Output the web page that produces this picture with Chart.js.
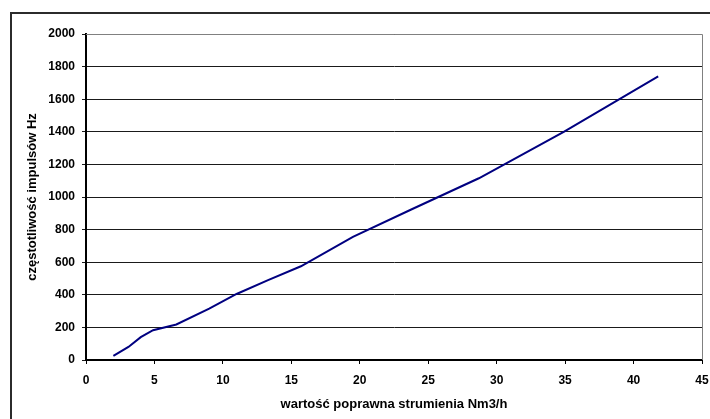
<!DOCTYPE html>
<html>
<head>
<meta charset="utf-8">
<script src="https://cdn.jsdelivr.net/npm/chart.js@4/dist/chart.umd.min.js"></script>
<style>
  html, body { margin: 0; padding: 0; background: #fff; }
  #wrap { width: 710px; height: 419px; position: relative; }
</style>
</head>
<body>
<div id="wrap"><canvas id="c" width="710" height="419"></canvas></div>
<script>
// Flow rate (Nm3/h) and the corresponding pulse frequency (Hz)
const flowRate = [2.0, 3.1, 4.0, 4.9, 6.6, 9.0, 11.0, 13.3, 15.7, 19.5, 23.8, 28.7, 34.9, 41.8];
const pulseFreq = [25, 80, 140, 183, 218, 315, 405, 490, 575, 755, 925, 1115, 1400, 1740];

const xTitle = 'wartość poprawna strumienia Nm3/h';
const yTitle = 'częstotliwość impulsów Hz';

const points = flowRate.map((x, i) => ({ x: x, y: pulseFreq[i] }));

const tickFont = { family: '"Liberation Sans", Arial, sans-serif', size: 12, weight: 'bold' };
const titleFont = { family: '"Liberation Sans", Arial, sans-serif', size: 13, weight: 'bold' };

// Outer frame of the chart object and the plot-area outline
const framePlugin = {
  id: 'frame',
  beforeDatasetsDraw(chart) {
    const { ctx, chartArea: a } = chart;
    ctx.save();
    ctx.strokeStyle = '#808080';
    ctx.lineWidth = 1;
    ctx.beginPath();
    ctx.moveTo(a.left, a.top + 0.5);
    ctx.lineTo(a.right + 0.5, a.top + 0.5);
    ctx.lineTo(a.right + 0.5, a.bottom);
    ctx.stroke();
    ctx.restore();
  },
  afterDraw(chart) {
    const { ctx } = chart;
    ctx.save();
    ctx.strokeStyle = '#2b2b2b';
    ctx.lineWidth = 2;
    ctx.beginPath();
    ctx.moveTo(11, chart.height);
    ctx.lineTo(11, 13);
    ctx.lineTo(chart.width, 13);
    ctx.stroke();
    ctx.restore();
  }
};

const plainNumber = (v) => String(v);

new Chart(document.getElementById('c'), {
  type: 'scatter',
  data: {
    datasets: [{
      data: points,
      showLine: true,
      borderColor: '#000080',
      borderWidth: 2,
      pointRadius: 0,
      tension: 0,
      fill: false
    }]
  },
  options: {
    responsive: false,
    animation: false,
    layout: { padding: { top: 34, right: 8, left: 0, bottom: 0 } },
    plugins: { legend: { display: false }, tooltip: { enabled: false } },
    scales: {
      x: {
        type: 'linear',
        min: 0, max: 45,
        afterFit(scale) {
          scale.height = 59;
          scale.paddingLeft = 0;
          scale.paddingRight = 0;
        },
        ticks: { stepSize: 5, color: '#000', font: tickFont, padding: 9, maxRotation: 0, callback: plainNumber },
        grid: { drawOnChartArea: false, drawTicks: true, tickLength: 4, color: '#000', lineWidth: 1 },
        border: { display: true, color: '#000', width: 2 },
        title: { display: true, text: xTitle, color: '#000', font: titleFont, padding: { top: 0, bottom: 7 } }
      },
      y: {
        type: 'linear',
        min: 0, max: 2000,
        afterFit(scale) {
          scale.width = 86;
          scale.paddingTop = 0;
          scale.paddingBottom = 0;
        },
        ticks: { stepSize: 200, color: '#000', font: tickFont, padding: 7, callback: plainNumber },
        grid: { drawOnChartArea: true, drawTicks: true, tickLength: 4, color: '#1a1a1a', lineWidth: 1 },
        border: { display: true, color: '#000', width: 2 },
        title: { display: true, text: yTitle, color: '#000', font: titleFont, padding: { top: 25, bottom: 0 } }
      }
    }
  },
  plugins: [framePlugin]
});
</script>
</body>
</html>
